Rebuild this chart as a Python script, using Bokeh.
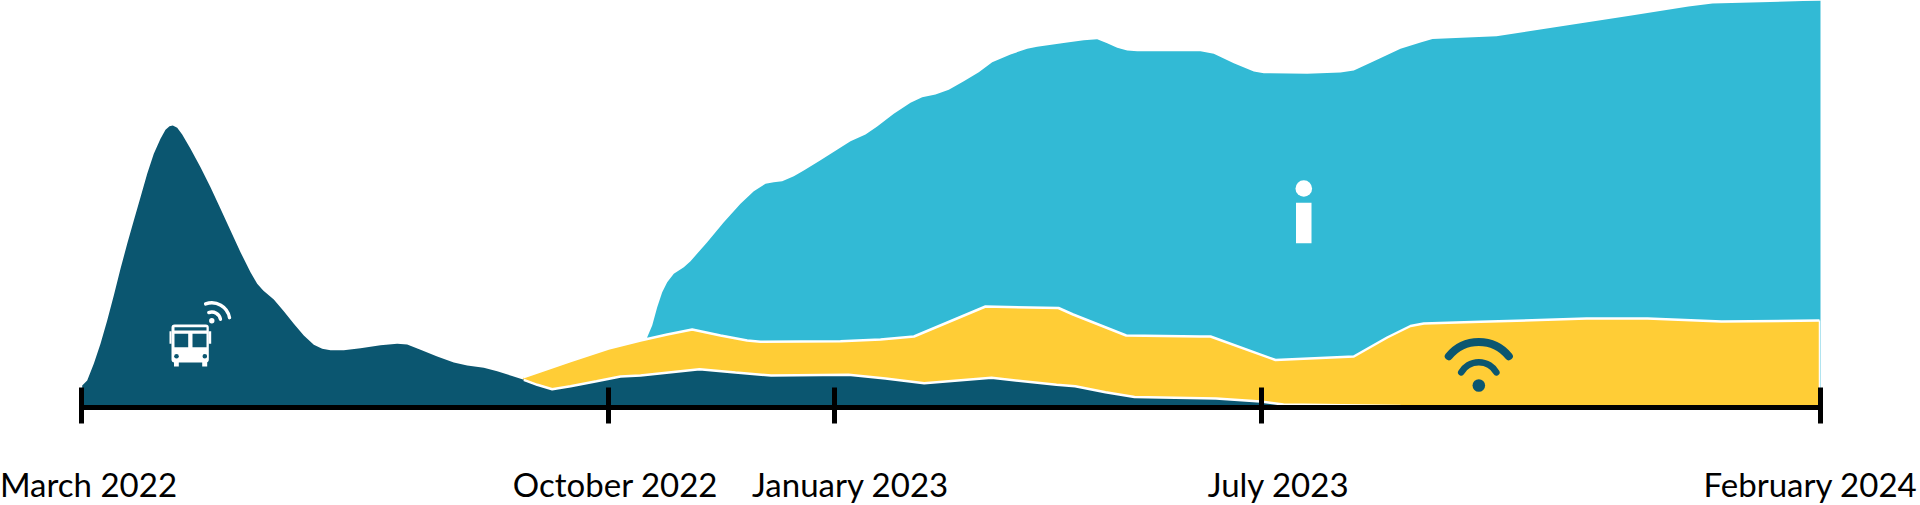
from bokeh.plotting import figure
from bokeh.models import Range1d, LinearAxis, FixedTicker
from bokeh.core.properties import value
from bokeh.embed import file_html
from bokeh.resources import INLINE
import math

# Time axis
tick_pos = [81, 607.5, 834, 1260.5, 1820]
tick_labels = ["March 2022", "October 2022", "January 2023", "July 2023", "February 2024"]
label_pos = [88, 615, 850, 1278, 1810]

# Series: position along the time axis, height above the axis
dark_x = [81.7,86.7,93.3,100,106.7,113.3,120,126.7,133.3,140,146.7,153.3,160,165,169,172.3,176.7,181.7,190,200,210,220,230,240,250,256.7,262.7,273.3,283.3,293.3,303.3,313.3,321.7,330,343.3,360,380,396.7,406.7,420,436.7,453.3,466.7,483.3,496.7,510,523.3,536.7,551.7,570,596,620,640,699,735,770.6,848,885,923.7,991,1056,1074.7,1105,1134,1215.5,1260,1283,1400]
dark_y = [22,27,43.7,63.7,87,112,138.7,163.7,187,210.3,233.7,253.7,268.7,277.7,281.3,282,279.7,273,258.7,240.3,220.3,198.7,177,155.3,135.3,123.7,117,108,96.3,83.7,72,62.7,58.7,57.3,57.3,59.3,62.3,63.7,63,57.7,51,45,42,39.7,36.3,32,27.7,22.7,18.3,21.3,26.3,31,32,38.3,35,32,32.7,29,24.3,29.7,22.7,21.3,15.3,10.5,9,6,3,1.5]
yellow_x = [522.7,570,608,640,666.7,691.7,720,746.7,760,840,880,913.5,985,1058,1072.6,1125.7,1200,1210,1275,1353.3,1386.7,1410,1423.3,1480,1586,1647,1721,1819]
yellow_y = [30.3,46.5,59,67,73,78,72,67,65.7,66.3,68,71,101,99.5,93,72,71,71,47.5,51,70,81.5,84,85.7,89,89,86,87]
teal_x = [646.7,651.7,656.7,661.7,666.7,673.3,683.3,690,706.7,723.3,740,753.3,765,773.3,781.7,793.3,803.3,819.6,850,865,876.7,893.3,910,921.7,935,948.3,963.3,978.3,991.7,1010,1026.7,1036.7,1066.7,1083.3,1096.7,1106.7,1116.7,1126.7,1136.7,1200,1213.3,1233.3,1253.3,1263.3,1306.7,1340,1353.3,1373.3,1400,1420,1432,1496,1631,1688,1712,1820]
teal_y = [70.3,82,100.3,115.3,125.3,133.7,140.3,146.3,165.3,185.3,203.7,216.3,223.7,225.3,226.3,231.3,237,247,266.3,273,281,293.7,304.7,310.3,313,317.7,326.3,335.3,345.3,353,358.7,360.7,365,367.3,368.3,364.3,359.7,357,356.3,356.3,353.7,344.3,336,334.3,333.7,335,337,346.3,358.7,365,368.5,371.3,392,401,404,407]

DARK, YELLOW, TEAL = "#0B5670", "#FFCD36", "#32BAD5"
WHITE = "#FFFFFF"

p = figure(width=1920, height=505, x_range=Range1d(0, 1920), y_range=Range1d(-98, 407),
           x_axis_type=None, y_axis_type=None, output_backend="svg", toolbar_location=None,
           min_border=0, outline_line_color=None, background_fill_color=WHITE)

for xs, ys, col in ((teal_x, teal_y, TEAL), (yellow_x, yellow_y, YELLOW), (dark_x, dark_y, DARK)):
    p.varea(x=xs, y1=[0] * len(xs), y2=ys, fill_color=col)

p.line(yellow_x, yellow_y, line_color=WHITE, line_width=2.5)
p.line(dark_x[46:], dark_y[46:], line_color=WHITE, line_width=2.5)
p.line([yellow_x[-1], yellow_x[-1]], [0, yellow_y[-1]], line_color=WHITE, line_width=1.5)

# Time axis
axis = LinearAxis(ticker=FixedTicker(ticks=tick_pos), fixed_location=0.5, bounds=(tick_pos[0], tick_pos[-1]),
                  axis_line_color="#000000", axis_line_width=5, major_tick_line_color="#000000",
                  major_tick_line_width=5, major_tick_in=20, major_tick_out=16,
                  minor_tick_line_color=None, major_label_text_font_size="0px",
                  major_label_text_color=None)
p.add_layout(axis, "below")

p.text(x=label_pos, y=[-76] * 5, text=tick_labels, text_font=value("Lato"), text_font_size="33px",
       text_color="#000000", text_align="center", text_baseline="alphabetic")

def Y(py):
    return 407 - py

# Bus icon
p.quad(left=[171], right=[208.3], top=[Y(324)], bottom=[Y(362)], fill_color=WHITE, line_color=None, border_radius=3)
p.quad(left=[169, 208], right=[171, 210.7], top=[Y(330.7)] * 2, bottom=[Y(343.3)] * 2, fill_color=WHITE, line_color=None)
p.quad(left=[173.5, 201.7], right=[178.3, 206.7], top=[Y(361)] * 2, bottom=[Y(366)] * 2, fill_color=WHITE, line_color=None)
p.quad(left=[174, 192, 174], right=[187.7, 206, 206], top=[Y(333.3), Y(333.3), Y(326.7)], bottom=[Y(346.7), Y(346.7), Y(330)],
       fill_color=DARK, line_color=None)
p.circle(x=[176, 204.3], y=[Y(355.7)] * 2, radius=2.3, fill_color=DARK, line_color=None)
p.circle(x=[211.3], y=[Y(320.3)], radius=2.7, fill_color=WHITE, line_color=None)
p.arc(x=[211.3, 211.3], y=[Y(320.3)] * 2, radius=[8.8, 18], start_angle=[math.radians(10)] * 2,
      end_angle=[math.radians(110)] * 2, line_color=WHITE, line_width=3.4, line_cap="round")

# Info icon
p.circle(x=[1303.3], y=[Y(188)], radius=8.3, fill_color=WHITE, line_color=None)
p.quad(left=[1295.5], right=[1311], top=[Y(202.3)], bottom=[Y(242.7)], fill_color=WHITE, line_color=None)

# Wifi icon
p.circle(x=[1478.3], y=[Y(385)], radius=6.3, fill_color=DARK, line_color=None)
p.arc(x=[1478.3], y=[Y(380)], radius=[38.6], start_angle=[math.radians(39)], end_angle=[math.radians(141)],
      line_color=DARK, line_width=8, line_cap="round")
p.arc(x=[1478.3], y=[Y(382)], radius=[20.3], start_angle=[math.radians(30)], end_angle=[math.radians(150)],
      line_color=DARK, line_width=6.5, line_cap="round")

open("out.html", "w").write(file_html(p, INLINE))
